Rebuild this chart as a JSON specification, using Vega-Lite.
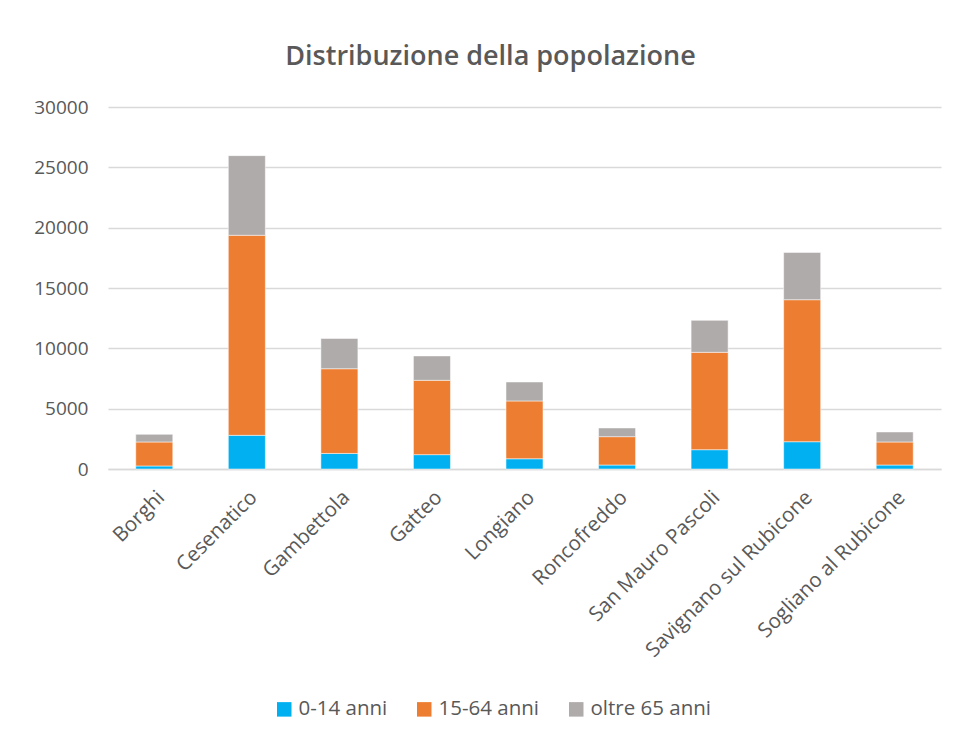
{
  "$schema": "https://vega.github.io/schema/vega-lite/v6.json",
  "autosize": "none",
  "width": 833,
  "height": 362,
  "padding": {"left": 108, "top": 107, "right": 16, "bottom": 271},
  "background": "white",
  "config": {
    "view": {"stroke": null},
    "font": "Open Sans"
  },
  "title": {
    "text": "Distribuzione della popolazione",
    "anchor": "middle",
    "fontSize": 27,
    "fontWeight": 600,
    "color": "#595959",
    "font": "Open Sans",
    "offset": 27,
    "dx": -34
  },
  "data": {
    "values": [
      {"comune": "Borghi", "fascia": "0-14 anni", "ord": 1, "pop": 250},
      {"comune": "Borghi", "fascia": "15-64 anni", "ord": 2, "pop": 1990},
      {"comune": "Borghi", "fascia": "oltre 65 anni", "ord": 3, "pop": 630},
      {"comune": "Cesenatico", "fascia": "0-14 anni", "ord": 1, "pop": 2790},
      {"comune": "Cesenatico", "fascia": "15-64 anni", "ord": 2, "pop": 16580},
      {"comune": "Cesenatico", "fascia": "oltre 65 anni", "ord": 3, "pop": 6600},
      {"comune": "Gambettola", "fascia": "0-14 anni", "ord": 1, "pop": 1290},
      {"comune": "Gambettola", "fascia": "15-64 anni", "ord": 2, "pop": 7020},
      {"comune": "Gambettola", "fascia": "oltre 65 anni", "ord": 3, "pop": 2510},
      {"comune": "Gatteo", "fascia": "0-14 anni", "ord": 1, "pop": 1190},
      {"comune": "Gatteo", "fascia": "15-64 anni", "ord": 2, "pop": 6160},
      {"comune": "Gatteo", "fascia": "oltre 65 anni", "ord": 3, "pop": 2020},
      {"comune": "Longiano", "fascia": "0-14 anni", "ord": 1, "pop": 850},
      {"comune": "Longiano", "fascia": "15-64 anni", "ord": 2, "pop": 4790},
      {"comune": "Longiano", "fascia": "oltre 65 anni", "ord": 3, "pop": 1570},
      {"comune": "Roncofreddo", "fascia": "0-14 anni", "ord": 1, "pop": 330},
      {"comune": "Roncofreddo", "fascia": "15-64 anni", "ord": 2, "pop": 2350},
      {"comune": "Roncofreddo", "fascia": "oltre 65 anni", "ord": 3, "pop": 720},
      {"comune": "San Mauro Pascoli", "fascia": "0-14 anni", "ord": 1, "pop": 1600},
      {"comune": "San Mauro Pascoli", "fascia": "15-64 anni", "ord": 2, "pop": 8070},
      {"comune": "San Mauro Pascoli", "fascia": "oltre 65 anni", "ord": 3, "pop": 2650},
      {"comune": "Savignano sul Rubicone", "fascia": "0-14 anni", "ord": 1, "pop": 2260},
      {"comune": "Savignano sul Rubicone", "fascia": "15-64 anni", "ord": 2, "pop": 11770},
      {"comune": "Savignano sul Rubicone", "fascia": "oltre 65 anni", "ord": 3, "pop": 3920},
      {"comune": "Sogliano al Rubicone", "fascia": "0-14 anni", "ord": 1, "pop": 330},
      {"comune": "Sogliano al Rubicone", "fascia": "15-64 anni", "ord": 2, "pop": 1910},
      {"comune": "Sogliano al Rubicone", "fascia": "oltre 65 anni", "ord": 3, "pop": 830}
    ]
  },
  "mark": {"type": "bar", "stroke": "white", "strokeWidth": 0.5},
  "encoding": {
    "x": {
      "field": "comune",
      "type": "nominal",
      "sort": null,
      "scale": {"paddingInner": 0.6, "paddingOuter": 0.3},
      "axis": {
        "title": null,
        "labelAngle": -45,
        "labelFontSize": 20.5,
        "labelColor": "#595959",
        "labelPadding": 18,
        "labelDx": -6,
        "labelLimit": 0,
        "ticks": false,
        "domainColor": "#d9d9d9",
        "domainWidth": 1.5,
        "labelFont": "Open Sans"
      }
    },
    "y": {
      "field": "pop",
      "type": "quantitative",
      "stack": "zero",
      "scale": {"domain": [0, 30000]},
      "axis": {
        "title": null,
        "values": [0, 5000, 10000, 15000, 20000, 25000, 30000],
        "format": "d",
        "labelFontSize": 19,
        "labelColor": "#595959",
        "labelPadding": 20,
        "ticks": false,
        "domain": false,
        "gridColor": "#d9d9d9",
        "gridWidth": 1.5,
        "labelFont": "Open Sans"
      }
    },
    "color": {
      "field": "fascia",
      "type": "nominal",
      "scale": {
        "domain": ["0-14 anni", "15-64 anni", "oltre 65 anni"],
        "range": ["#00B0F0", "#ED7D31", "#AFABAB"]
      },
      "legend": {
        "title": null,
        "orient": "none",
        "direction": "horizontal",
        "legendX": 166,
        "legendY": 592,
        "symbolType": "square",
        "symbolSize": 210,
        "symbolStrokeWidth": 0,
        "labelFontSize": 20.5,
        "labelColor": "#595959",
        "labelFont": "Open Sans",
        "columnPadding": 26,
        "labelOffset": 4
      }
    },
    "order": {"field": "ord", "type": "quantitative"}
  }
}
